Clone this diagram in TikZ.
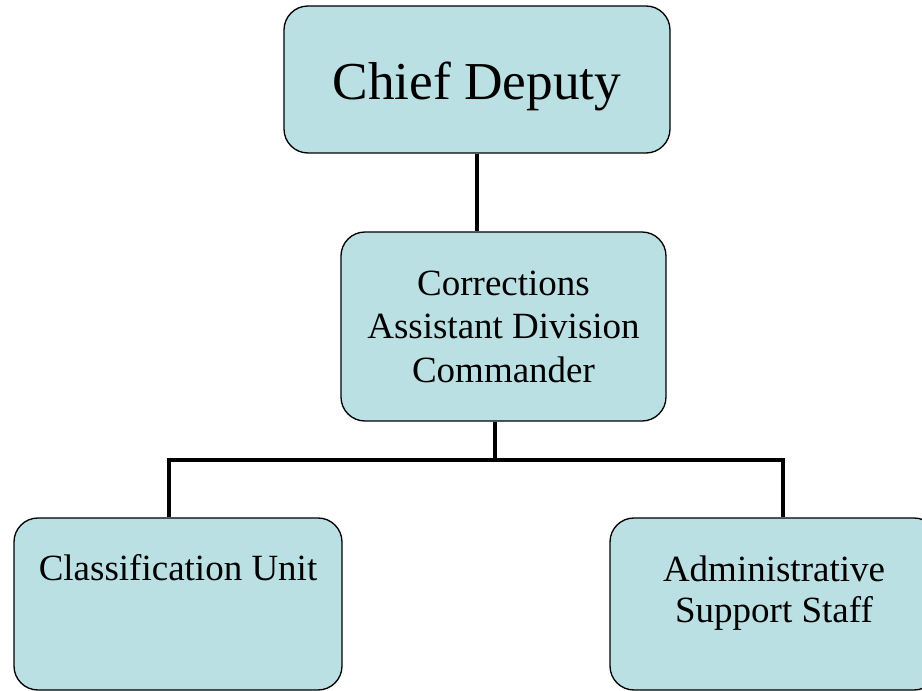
\documentclass[tikz,border=0pt]{standalone}
\usepackage{fontspec}
\setmainfont{Liberation Serif}
\usetikzlibrary{positioning}
\definecolor{boxblue}{HTML}{BBE0E3}

\begin{document}
\begin{tikzpicture}
		[x=0.75pt,y=-0.75pt,
		box/.style={rectangle,rounded corners=18pt,draw=black,fill=boxblue,line width=1pt,inner sep=0pt,align=center,font=\fontsize{27.75}{32.6}\selectfont},
		link/.style={line width=3.6pt}]
		\useasboundingbox (0,0) rectangle (922,691);
		\node [box,minimum width=289.5pt,minimum height=110.25pt,text height=70.5pt,text depth=39.75pt,font=\fontsize{40}{48}\selectfont] (c1) at (477,79.5) {Chief Deputy};
		\node [box,minimum width=243.75pt,minimum height=141.75pt] (c2) at (503.5,326.5) {Corrections\\Assistant Division\\Commander};
		\node [box,minimum width=246pt,minimum height=129pt,text height=47.25pt,text depth=81.75pt] (d1) at (178,604) {Classification Unit};
		\node [box,minimum width=246pt,minimum height=129pt,text height=78.75pt,text depth=50.25pt,font=\fontsize{27.75}{30.75}\selectfont] (d2) at (774,604) {Administrative\\Support Staff};

		\coordinate (j1) at (495,460);
		\coordinate (j2) at (169,460);
		\coordinate (j3) at (783,460);

		\draw [link] (c1.south) -- (c1.south |- c2.north);
		\draw [link] (j1 |- c2.south) -- (j1);
		\draw [link] (j2 |- d1.north) -- (j2) -- (j3) -- (j3 |- d2.north);

	\end{tikzpicture}
\end{document}
